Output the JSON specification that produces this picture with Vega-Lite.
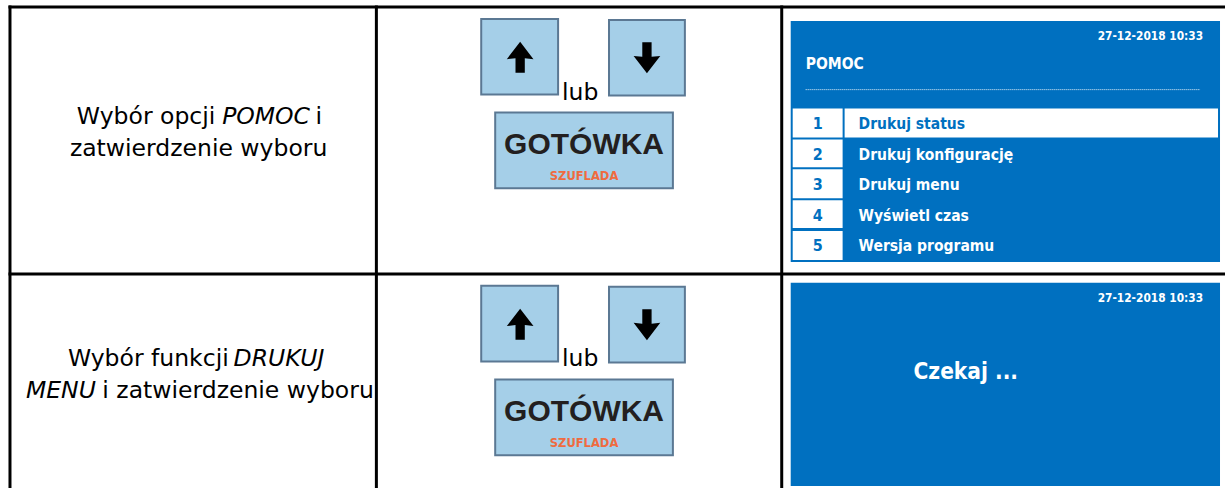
{
  "$schema": "https://vega.github.io/schema/vega-lite/v6.json",
  "width": 1227,
  "height": 490,
  "padding": 0,
  "autosize": {"type": "fit", "contains": "padding"},
  "background": "#ffffff",
  "config": {"view": {"stroke": null}},
  "datasets": {
    "lines": [
      {"x": 8.5, "y": 7, "x2": 1227, "y2": 7},
      {"x": 10, "y": 5.5, "x2": 10, "y2": 490},
      {"x": 377, "y": 5.5, "x2": 377, "y2": 490},
      {"x": 783, "y": 5.5, "x2": 783, "y2": 490},
      {"x": 8.5, "y": 275, "x2": 1227, "y2": 275}
    ],
    "buttons": [
      {"x": 482, "x2": 559, "y": 19, "y2": 95},
      {"x": 610, "x2": 686, "y": 20, "y2": 96},
      {"x": 496, "x2": 674, "y": 113, "y2": 189},
      {"x": 482, "x2": 559, "y": 287, "y2": 363},
      {"x": 610, "x2": 686, "y": 288, "y2": 364},
      {"x": 496, "x2": 674, "y": 381, "y2": 457}
    ],
    "screens": [
      {"x": 792, "x2": 1222, "y": 21, "y2": 263},
      {"x": 792, "x2": 1222, "y": 284, "y2": 488}
    ],
    "cells": [
      {"x": 794, "x2": 844, "y": 109, "y2": 138},
      {"x": 846, "x2": 1220, "y": 109, "y2": 138},
      {"x": 794, "x2": 844, "y": 140, "y2": 168},
      {"x": 794, "x2": 844, "y": 170, "y2": 199},
      {"x": 794, "x2": 844, "y": 201, "y2": 229},
      {"x": 794, "x2": 844, "y": 232, "y2": 261}
    ],
    "arrows": [
      {"dir": "up", "x": 521, "y": 57.5},
      {"dir": "down", "x": 648, "y": 58},
      {"dir": "up", "x": 521, "y": 325.5},
      {"dir": "down", "x": 648, "y": 326}
    ],
    "dots": [
      {"x": 807, "x2": 1202, "y": 90}
    ],
    "bodyNormal": [
      {"t": "Wybór opcji", "x": 77, "y": 125},
      {"t": "i", "x": 316, "y": 125},
      {"t": "zatwierdzenie wyboru", "x": 70, "y": 157},
      {"t": "Wybór funkcji", "x": 68, "y": 368},
      {"t": "i zatwierdzenie wyboru", "x": 102.5, "y": 400},
      {"t": "lub", "x": 563, "y": 100},
      {"t": "lub", "x": 563, "y": 368}
    ],
    "bodyItalic": [
      {"t": "POMOC", "x": 222.5, "y": 125},
      {"t": "DRUKUJ", "x": 234, "y": 368},
      {"t": "MENU", "x": 26, "y": 400}
    ],
    "gotowka": [
      {"t": "GOTÓWKA", "x": 585, "y": 155},
      {"t": "GOTÓWKA", "x": 585, "y": 423}
    ],
    "szuflada": [
      {"t": "SZUFLADA", "x": 585, "y": 181},
      {"t": "SZUFLADA", "x": 585, "y": 449}
    ],
    "dates": [
      {"t": "27-12-2018 10:33", "x": 1205, "y": 40},
      {"t": "27-12-2018 10:33", "x": 1205, "y": 303}
    ],
    "title": [
      {"t": "POMOC", "x": 807, "y": 69}
    ],
    "numbers": [
      {"t": "1", "x": 819, "y": 130},
      {"t": "2", "x": 819, "y": 160.5},
      {"t": "3", "x": 819, "y": 191},
      {"t": "4", "x": 819, "y": 221.5},
      {"t": "5", "x": 819, "y": 252}
    ],
    "items": [
      {"t": "Drukuj status", "state": "selected", "x": 860, "y": 130},
      {"t": "Drukuj konfigurację", "state": "normal", "x": 860, "y": 160.5},
      {"t": "Drukuj menu", "state": "normal", "x": 860, "y": 191},
      {"t": "Wyświetl czas", "state": "normal", "x": 860, "y": 221.5},
      {"t": "Wersja programu", "state": "normal", "x": 860, "y": 252}
    ],
    "wait": [
      {"t": "Czekaj ...", "x": 915, "y": 381}
    ]
  },
  "layer": [
    {
      "data": {"name": "screens"},
      "mark": {"type": "rect", "fill": "#0070c0"},
      "encoding": {
        "x": {"field": "x", "type": "quantitative", "scale": {"domain": [0, 1227], "nice": false, "zero": false}, "axis": null},
        "x2": {"field": "x2"},
        "y": {"field": "y", "type": "quantitative", "scale": {"domain": [0, 490], "nice": false, "zero": false, "reverse": true}, "axis": null},
        "y2": {"field": "y2"}
      }
    },
    {
      "data": {"name": "cells"},
      "mark": {"type": "rect", "fill": "#ffffff"},
      "encoding": {
        "x": {"field": "x", "type": "quantitative", "scale": {"domain": [0, 1227], "nice": false, "zero": false}, "axis": null},
        "x2": {"field": "x2"},
        "y": {"field": "y", "type": "quantitative", "scale": {"domain": [0, 490], "nice": false, "zero": false, "reverse": true}, "axis": null},
        "y2": {"field": "y2"}
      }
    },
    {
      "data": {"name": "buttons"},
      "mark": {"type": "rect", "fill": "#a5cfe8", "stroke": "#5b7893", "strokeWidth": 2},
      "encoding": {
        "x": {"field": "x", "type": "quantitative", "scale": {"domain": [0, 1227], "nice": false, "zero": false}, "axis": null},
        "x2": {"field": "x2"},
        "y": {"field": "y", "type": "quantitative", "scale": {"domain": [0, 490], "nice": false, "zero": false, "reverse": true}, "axis": null},
        "y2": {"field": "y2"}
      }
    },
    {
      "data": {"name": "lines"},
      "mark": {"type": "rule", "color": "#000000", "strokeWidth": 3},
      "encoding": {
        "x": {"field": "x", "type": "quantitative", "scale": {"domain": [0, 1227], "nice": false, "zero": false}, "axis": null},
        "x2": {"field": "x2"},
        "y": {"field": "y", "type": "quantitative", "scale": {"domain": [0, 490], "nice": false, "zero": false, "reverse": true}, "axis": null},
        "y2": {"field": "y2"}
      }
    },
    {
      "data": {"name": "dots"},
      "mark": {"type": "rule", "color": "#ffffff", "strokeWidth": 1, "strokeDash": [1, 1], "opacity": 0.9},
      "encoding": {
        "x": {"field": "x", "type": "quantitative", "scale": {"domain": [0, 1227], "nice": false, "zero": false}, "axis": null},
        "x2": {"field": "x2"},
        "y": {"field": "y", "type": "quantitative", "scale": {"domain": [0, 490], "nice": false, "zero": false, "reverse": true}, "axis": null}
      }
    },
    {
      "data": {"name": "arrows"},
      "mark": {"type": "point", "filled": true, "fill": "#000000", "opacity": 1, "size": 961, "strokeWidth": 0},
      "encoding": {
        "x": {"field": "x", "type": "quantitative", "scale": {"domain": [0, 1227], "nice": false, "zero": false}, "axis": null},
        "y": {"field": "y", "type": "quantitative", "scale": {"domain": [0, 490], "nice": false, "zero": false, "reverse": true}, "axis": null},
        "shape": {"field": "dir", "type": "nominal", "legend": null, "scale": {"domain": ["up", "down"], "range": ["M0,-1 L0.86,0.12 L0.3,0.06 L0.3,1 L-0.3,1 L-0.3,0.06 L-0.86,0.12 Z", "M0,1 L0.86,-0.12 L0.3,-0.06 L0.3,-1 L-0.3,-1 L-0.3,-0.06 L-0.86,-0.12 Z"]}}
      }
    },
    {
      "data": {"name": "bodyNormal"},
      "mark": {"type": "text", "font": "DejaVu Sans", "fontSize": 23.5, "color": "#000000", "align": "left", "baseline": "alphabetic"},
      "encoding": {
        "x": {"field": "x", "type": "quantitative", "scale": {"domain": [0, 1227], "nice": false, "zero": false}, "axis": null},
        "y": {"field": "y", "type": "quantitative", "scale": {"domain": [0, 490], "nice": false, "zero": false, "reverse": true}, "axis": null},
        "text": {"field": "t"}
      }
    },
    {
      "data": {"name": "bodyItalic"},
      "mark": {"type": "text", "font": "DejaVu Sans", "fontStyle": "italic", "fontSize": 23.5, "color": "#000000", "align": "left", "baseline": "alphabetic"},
      "encoding": {
        "x": {"field": "x", "type": "quantitative", "scale": {"domain": [0, 1227], "nice": false, "zero": false}, "axis": null},
        "y": {"field": "y", "type": "quantitative", "scale": {"domain": [0, 490], "nice": false, "zero": false, "reverse": true}, "axis": null},
        "text": {"field": "t"}
      }
    },
    {
      "data": {"name": "gotowka"},
      "mark": {"type": "text", "font": "Liberation Sans", "fontWeight": "bold", "fontSize": 30, "color": "#231f20", "align": "center", "baseline": "alphabetic"},
      "encoding": {
        "x": {"field": "x", "type": "quantitative", "scale": {"domain": [0, 1227], "nice": false, "zero": false}, "axis": null},
        "y": {"field": "y", "type": "quantitative", "scale": {"domain": [0, 490], "nice": false, "zero": false, "reverse": true}, "axis": null},
        "text": {"field": "t"}
      }
    },
    {
      "data": {"name": "szuflada"},
      "mark": {"type": "text", "font": "DejaVu Sans Condensed", "fontWeight": "bold", "fontSize": 12.8, "color": "#ef6b3f", "align": "center", "baseline": "alphabetic"},
      "encoding": {
        "x": {"field": "x", "type": "quantitative", "scale": {"domain": [0, 1227], "nice": false, "zero": false}, "axis": null},
        "y": {"field": "y", "type": "quantitative", "scale": {"domain": [0, 490], "nice": false, "zero": false, "reverse": true}, "axis": null},
        "text": {"field": "t"}
      }
    },
    {
      "data": {"name": "dates"},
      "mark": {"type": "text", "font": "DejaVu Sans Condensed", "fontWeight": "bold", "fontSize": 11.8, "color": "#ffffff", "align": "right", "baseline": "alphabetic"},
      "encoding": {
        "x": {"field": "x", "type": "quantitative", "scale": {"domain": [0, 1227], "nice": false, "zero": false}, "axis": null},
        "y": {"field": "y", "type": "quantitative", "scale": {"domain": [0, 490], "nice": false, "zero": false, "reverse": true}, "axis": null},
        "text": {"field": "t"}
      }
    },
    {
      "data": {"name": "title"},
      "mark": {"type": "text", "font": "DejaVu Sans Condensed", "fontWeight": "bold", "fontSize": 15.5, "color": "#ffffff", "align": "left", "baseline": "alphabetic"},
      "encoding": {
        "x": {"field": "x", "type": "quantitative", "scale": {"domain": [0, 1227], "nice": false, "zero": false}, "axis": null},
        "y": {"field": "y", "type": "quantitative", "scale": {"domain": [0, 490], "nice": false, "zero": false, "reverse": true}, "axis": null},
        "text": {"field": "t"}
      }
    },
    {
      "data": {"name": "numbers"},
      "mark": {"type": "text", "font": "DejaVu Sans Condensed", "fontWeight": "bold", "fontSize": 16, "color": "#0070c0", "align": "center", "baseline": "alphabetic"},
      "encoding": {
        "x": {"field": "x", "type": "quantitative", "scale": {"domain": [0, 1227], "nice": false, "zero": false}, "axis": null},
        "y": {"field": "y", "type": "quantitative", "scale": {"domain": [0, 490], "nice": false, "zero": false, "reverse": true}, "axis": null},
        "text": {"field": "t"}
      }
    },
    {
      "data": {"name": "items"},
      "mark": {"type": "text", "font": "DejaVu Sans Condensed", "fontWeight": "bold", "fontSize": 15.5, "align": "left", "baseline": "alphabetic"},
      "encoding": {
        "x": {"field": "x", "type": "quantitative", "scale": {"domain": [0, 1227], "nice": false, "zero": false}, "axis": null},
        "y": {"field": "y", "type": "quantitative", "scale": {"domain": [0, 490], "nice": false, "zero": false, "reverse": true}, "axis": null},
        "text": {"field": "t"},
        "color": {"field": "state", "type": "nominal", "legend": null, "scale": {"domain": ["selected", "normal"], "range": ["#0070c0", "#ffffff"]}}
      }
    },
    {
      "data": {"name": "wait"},
      "mark": {"type": "text", "font": "DejaVu Sans Condensed", "fontWeight": "bold", "fontSize": 22.5, "color": "#ffffff", "align": "left", "baseline": "alphabetic"},
      "encoding": {
        "x": {"field": "x", "type": "quantitative", "scale": {"domain": [0, 1227], "nice": false, "zero": false}, "axis": null},
        "y": {"field": "y", "type": "quantitative", "scale": {"domain": [0, 490], "nice": false, "zero": false, "reverse": true}, "axis": null},
        "text": {"field": "t"}
      }
    }
  ]
}
